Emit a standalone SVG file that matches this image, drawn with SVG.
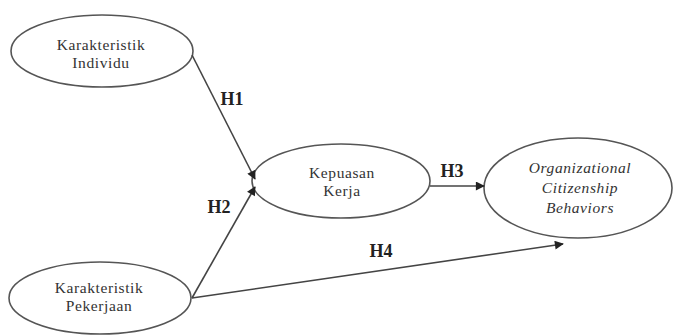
<svg xmlns="http://www.w3.org/2000/svg" width="677" height="335" viewBox="0 0 677 335">
<style>
.node ellipse{fill:#fff;stroke:#555;stroke-width:1.6}
.t{font-family:"Liberation Serif",serif;font-size:15.5px;letter-spacing:0.6px;fill:#333;text-anchor:middle}
.i{font-style:italic}
.lbl{font-family:"Liberation Serif",serif;font-size:18px;font-weight:bold;fill:#222;text-anchor:middle}
.edge{stroke:#444;stroke-width:1.6;fill:none;marker-end:url(#ah)}
</style>
<defs>
<marker id="ah" viewBox="0 0 10 10" refX="9" refY="5" markerWidth="10" markerHeight="9" markerUnits="userSpaceOnUse" orient="auto">
<path d="M0,0 L10,5 L0,10 z" fill="#222"/>
</marker>
</defs>
<rect width="677" height="335" fill="#fff"/>
<g id="n1" class="node">
<ellipse cx="102" cy="51" rx="91" ry="36"/>
<text class="t" x="101" y="50">Karakteristik</text>
<text class="t" x="101" y="68">Individu</text>
</g>
<g id="n2" class="node">
<ellipse cx="341" cy="181" rx="89" ry="37"/>
<text class="t" x="342" y="178">Kepuasan</text>
<text class="t" x="342" y="196">Kerja</text>
</g>
<g id="n3" class="node">
<ellipse cx="578" cy="188" rx="94" ry="50"/>
<text class="t i" x="580" y="173">Organizational</text>
<text class="t i" x="580" y="193">Citizenship</text>
<text class="t i" x="580" y="213">Behaviors</text>
</g>
<g id="n4" class="node">
<ellipse cx="100" cy="298" rx="91" ry="36"/>
<text class="t" x="99" y="293">Karakteristik</text>
<text class="t" x="99" y="311">Pekerjaan</text>
</g>
<g id="connectors">
<line class="edge" x1="192" y1="55" x2="255" y2="179"/>
<line class="edge" x1="192" y1="298" x2="255" y2="187"/>
<line class="edge" x1="430" y1="186" x2="484" y2="186"/>
<line class="edge" x1="192" y1="298" x2="563" y2="244"/>
<text class="lbl" x="232" y="105">H1</text>
<text class="lbl" x="219" y="213">H2</text>
<text class="lbl" x="452" y="177">H3</text>
<text class="lbl" x="381" y="257">H4</text>
</g>
</svg>
